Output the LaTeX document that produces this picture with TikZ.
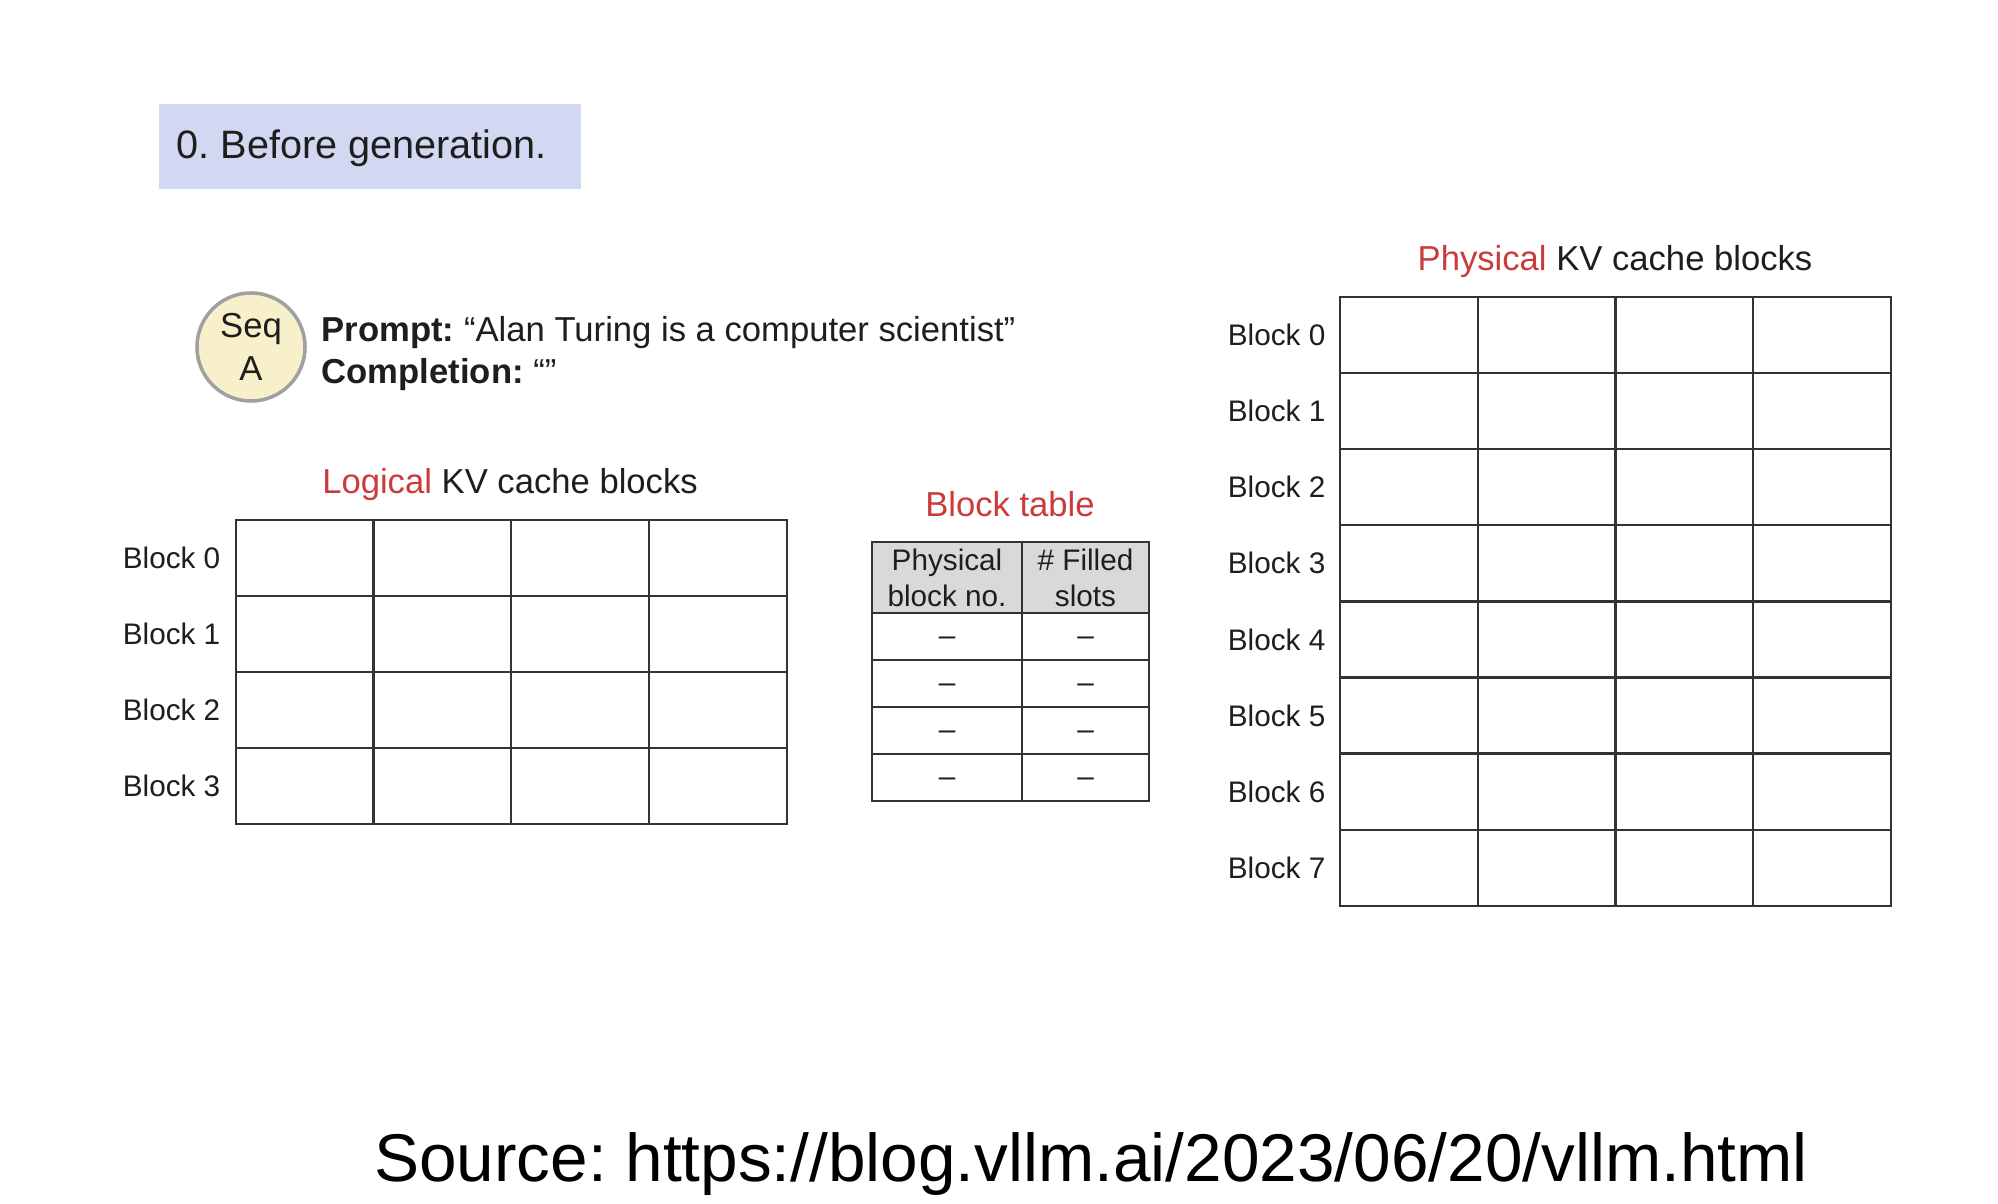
\documentclass[tikz,border=0pt]{standalone}
\usepackage{fontspec}
\setmainfont{Liberation Sans}
\frenchspacing
\definecolor{vred}{HTML}{CC3B3B}
\definecolor{ink}{HTML}{1E1E1E}
\definecolor{titlebg}{HTML}{D3D8F2}
\definecolor{seqfill}{HTML}{F8F0CA}
\definecolor{seqline}{HTML}{A0A0A0}
\definecolor{hdrgray}{HTML}{D9D9D9}
\definecolor{gridline}{HTML}{333333}
\begin{document}
\begin{tikzpicture}[x=0.01cm,y=-0.01cm,
  lbl/.style={font=\fontsize{8.45}{10.2}\selectfont, text=ink, inner sep=0},
  med/.style={font=\fontsize{9.85}{11.8}\selectfont, text=ink, inner sep=0},
  cell/.style={draw=gridline, line width=0.65pt, minimum width=1.3765cm, minimum height=0.7605cm, inner sep=0, outer sep=0},
  tcell/.style={draw=gridline, line width=0.65pt, inner sep=0, outer sep=0, lbl},
  dashtxt/.style={lbl, anchor=base}
]
\useasboundingbox[fill=white] (0,0) rectangle (1998,1204);

% title
\node (titlebox) [fill=titlebg, minimum width=4.22cm, minimum height=0.85cm, inner sep=0] at (370,146.5) {};
\node (title) [anchor=base west, inner sep=0, text=ink, font=\fontsize{11.27}{13}\selectfont] at (176,159) {0. Before generation.};

% sequence
\node (seq) [circle, draw=seqline, line width=1pt, fill=seqfill, minimum size=1.08cm, inner sep=0, med, align=center, font=\fontsize{9.85}{12}\selectfont] at (251,347) {Seq\\A};
\node (prompt) [med, anchor=base west] at (321,342) {\textbf{Prompt:} “Alan Turing is a computer scientist”};
\node (completion) [med, anchor=base west] at (321,384) {\textbf{Completion:} “”};

% logical blocks
\node (ltitle) [med, anchor=base] at (510,494) {\textcolor{vred}{Logical} KV cache blocks};
\foreach \r in {0,...,3}{
  \node (lb\r) [lbl, anchor=east] at (221,{520+76.05*(\r+0.5)}) {Block \r};
  \foreach \c in {0,...,3}{
    \node (lc\r\c) [cell] at ({236+137.65*(\c+0.5)},{520+76.05*(\r+0.5)}) {};
  }
}

% block table
\node (btitle) [med, anchor=base, text=vred] at (1010,517) {Block table};
\node (h1) [tcell, fill=hdrgray, minimum width=1.50cm, minimum height=0.71cm, align=center] at (947,577.5) {Physical\\block no.};
\node (h2) [tcell, fill=hdrgray, minimum width=1.27cm, minimum height=0.71cm, align=center] at (1085.5,577.5) {\# Filled\\slots};
\foreach \r in {0,...,3}{
  \node (t\r a) [tcell, minimum width=1.50cm, minimum height=0.47cm] at (947,{613+47*(\r+0.5)}) {};
  \node (t\r b) [tcell, minimum width=1.27cm, minimum height=0.47cm] at (1085.5,{613+47*(\r+0.5)}) {};
  \node (d\r a) [dashtxt] at ([yshift=-0.085cm]t\r a.center) {–};
  \node (d\r b) [dashtxt] at ([yshift=-0.085cm]t\r b.center) {–};
}

% physical blocks
\node (ptitle) [med, anchor=base] at (1615,271) {\textcolor{vred}{Physical} KV cache blocks};
\foreach \r in {0,...,7}{
  \node (pb\r) [lbl, anchor=east] at (1326,{297+76.1*(\r+0.5)}) {Block \r};
  \foreach \c in {0,...,3}{
    \node (pc\r\c) [cell] at ({1340+137.75*(\c+0.5)},{297+76.1*(\r+0.5)}) {};
  }
}

% source
\node (source) [anchor=base, inner sep=0, text=black, font=\fontsize{19.2}{22}\selectfont] at (1091,1181) {Source: https://blog.vllm.ai/2023/06/20/vllm.html};
\end{tikzpicture}
\end{document}
